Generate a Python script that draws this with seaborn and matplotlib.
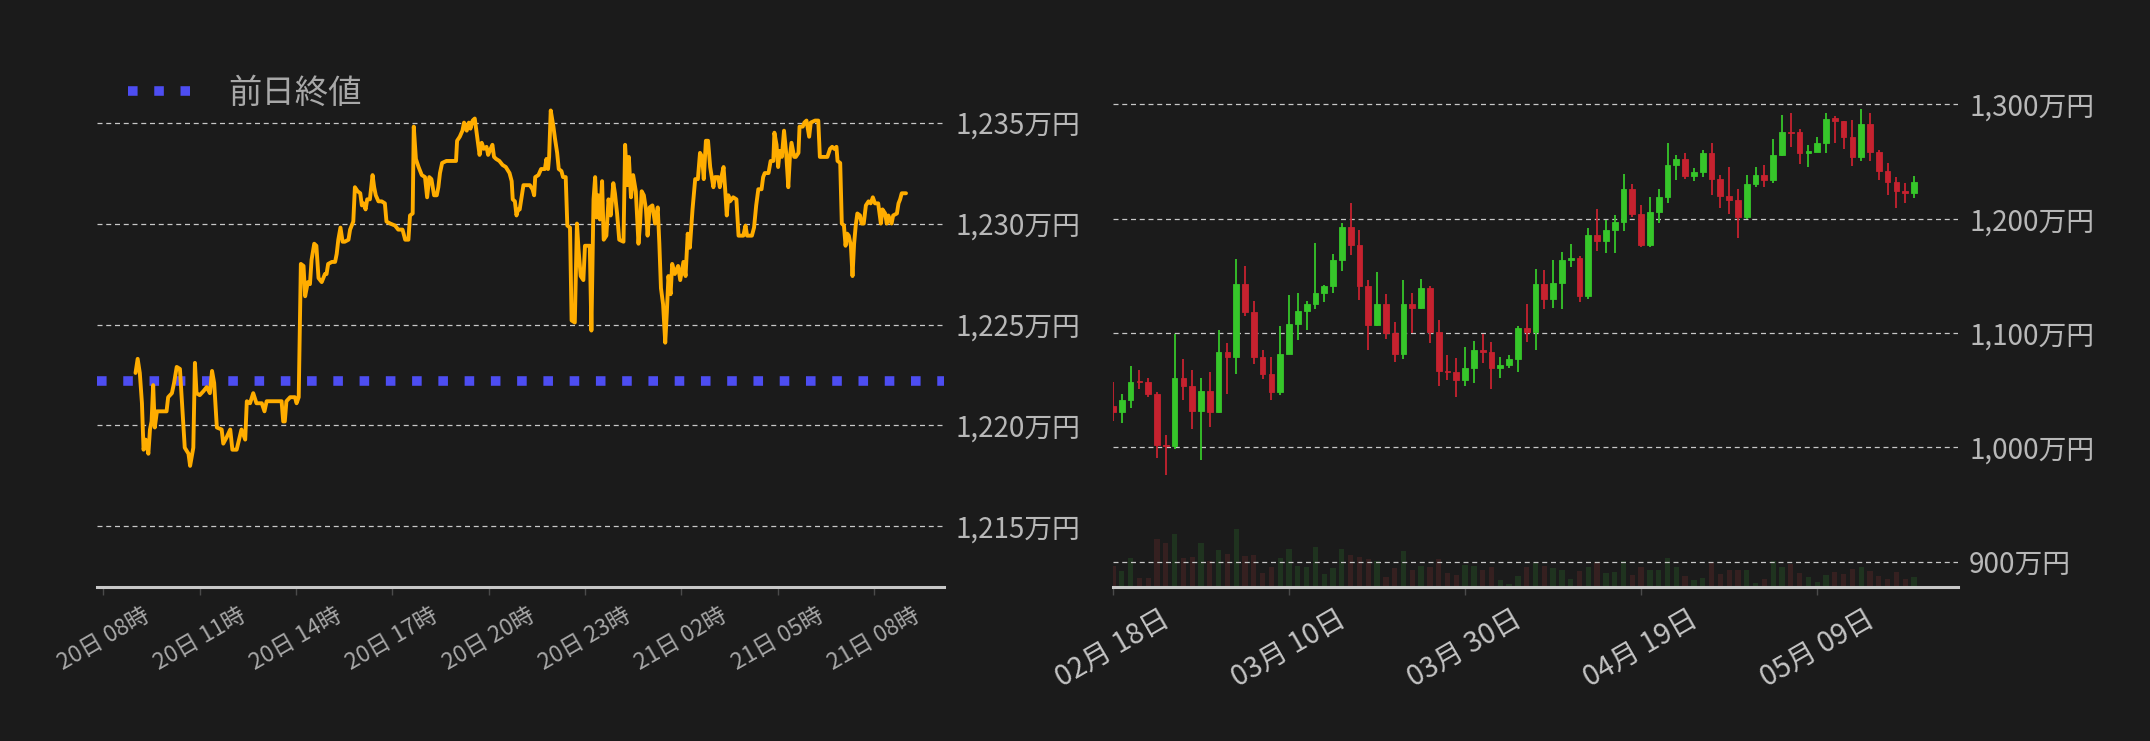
import matplotlib
matplotlib.use("Agg")
import numpy as np
import pandas as pd
import seaborn as sns
import matplotlib.pyplot as plt

# ---- intraday (left) ----
start = pd.Timestamp("2025-05-20 09:00")
minutes = [0, 4, 8, 12, 15, 19, 24, 27, 30, 33, 36, 40, 43, 49, 58, 61, 68, 72, 77, 83,
           89, 92, 99, 102, 108, 111, 114, 120, 127, 133, 139, 143, 147, 152, 161, 164, 170, 177, 181, 189,
           198, 205, 208, 214, 220, 226, 236, 241, 245, 254, 267, 273, 276, 279, 282, 289, 298, 301, 305, 309,
           314, 317, 322, 326, 329, 334, 338, 342, 348, 354,
           357, 360, 367, 373, 376, 379, 383, 387, 391, 398, 401, 404, 407, 410, 415, 420, 423, 426, 430, 433,
           438, 443, 446, 449, 454, 460, 466, 469, 476, 485, 491, 499, 504, 510, 513, 518, 520, 524, 529, 535,
           541, 545, 549, 553, 558, 563, 566, 569, 573, 581, 599, 601, 606, 611, 614, 619, 623, 626, 630, 634,
           639, 643, 647, 651, 656, 659, 662, 667, 670, 674, 680, 686, 692, 699, 703, 705, 709, 712,
           715, 718, 722, 725, 737, 742, 745, 747, 753, 758, 765, 768, 771, 773, 776, 781, 784, 788, 791, 796,
           799, 804, 807, 812, 815, 821, 825, 828, 832, 837, 840, 849, 852, 856, 859, 862, 865, 868, 872, 875,
           880, 884, 888, 893, 896, 900, 904, 912, 915, 919, 922, 926, 930, 935, 940, 943, 946, 950, 954, 957,
           961, 966, 971, 976, 979, 982, 986, 990, 993, 996, 1000, 1003, 1008, 1014, 1018, 1024, 1028, 1032, 1036, 1041,
           1046, 1051, 1055, 1059, 1062, 1066, 1070, 1074,
           1080, 1083, 1089, 1092, 1095, 1099, 1102, 1105, 1108, 1111, 1117, 1123, 1127, 1136, 1140, 1143, 1152, 1156,
           1160, 1164, 1170, 1173, 1176, 1183, 1187, 1192, 1194, 1198, 1201, 1204, 1208, 1212, 1216, 1220, 1223, 1226,
           1231, 1234, 1239, 1241, 1247, 1250, 1254, 1259, 1262, 1270, 1276, 1279, 1285, 1293, 1298, 1302, 1306, 1310,
           1312, 1317, 1320, 1324, 1327, 1330, 1333, 1337, 1340, 1343, 1346, 1349, 1354, 1357, 1361, 1365, 1370, 1374,
           1378, 1382, 1388, 1393, 1396, 1401, 1404, 1407, 1413, 1416, 1423, 1426, 1429, 1432, 1440]
prices = [1222.6, 1223.3, 1222.6, 1221.1, 1218.8, 1219.3, 1218.6, 1219.8, 1220.2, 1222.0,
          1219.9, 1220.7, 1220.7, 1220.7, 1220.7, 1221.4, 1221.6, 1222.1, 1222.9, 1222.8,
          1220.2, 1218.9, 1218.6, 1218.0, 1218.9, 1223.1, 1221.6, 1221.5, 1221.7, 1221.9,
          1221.6, 1222.7, 1222.1, 1219.9, 1219.8, 1219.1, 1219.4, 1219.8, 1218.8, 1218.8,
          1219.8, 1219.3, 1221.2, 1221.1, 1221.6, 1221.1, 1221.1, 1220.7, 1221.2, 1221.2,
          1221.2, 1221.2, 1220.2, 1220.2, 1221.2, 1221.4, 1221.4, 1221.1, 1221.4, 1228.0,
          1227.9, 1226.4, 1227.1, 1227.0, 1228.2, 1229.0, 1228.9, 1227.3, 1227.1, 1227.5,
          1227.5, 1228.0, 1228.1, 1228.1, 1228.5, 1229.2, 1229.8, 1229.1, 1229.1, 1229.2,
          1229.7, 1229.9, 1230.1, 1231.8, 1231.6, 1231.5, 1230.9, 1231.0, 1230.7, 1231.2,
          1231.2, 1232.4, 1231.8, 1231.4, 1231.1, 1231.1, 1231.0, 1230.1, 1230.0, 1229.9,
          1229.7, 1229.7, 1229.2, 1229.2, 1230.4, 1230.5, 1234.8, 1233.2, 1232.8, 1232.4,
          1232.3, 1231.3, 1232.3, 1232.2, 1231.4, 1231.4, 1231.8, 1232.5, 1233.0, 1233.1,
          1233.1, 1234.1, 1234.3, 1234.6, 1235.0, 1234.6, 1235.0, 1234.7, 1235.1, 1235.2,
          1234.2, 1233.4, 1234.0, 1233.7, 1233.8, 1233.4, 1233.6, 1233.9, 1233.3, 1233.2,
          1233.1, 1232.9, 1232.8, 1232.5, 1232.1, 1231.2, 1231.1, 1230.4,
          1230.7, 1230.7, 1231.4, 1231.9, 1231.9, 1231.7, 1231.4, 1232.3, 1232.4, 1232.7,
          1232.7, 1233.2, 1232.7, 1233.3, 1235.6, 1234.8, 1234.2, 1233.5, 1232.7, 1232.6,
          1232.3, 1232.3, 1229.9, 1229.8, 1225.2, 1225.1, 1230.0, 1228.7, 1227.4, 1227.2,
          1228.9, 1228.9, 1224.7, 1231.2, 1232.3, 1230.3, 1231.4, 1230.2, 1232.1, 1229.2,
          1229.4, 1231.2, 1230.4, 1232.0, 1231.5, 1230.5, 1229.2, 1229.1, 1233.9, 1231.9,
          1233.3, 1231.3, 1232.4, 1231.6, 1229.0, 1230.0, 1231.6, 1231.4, 1230.7, 1229.4,
          1230.8, 1230.9, 1230.0, 1230.8, 1229.0, 1226.8, 1226.0, 1224.1, 1225.6, 1227.4,
          1226.5, 1228.0, 1227.5, 1227.9, 1227.2, 1228.1, 1227.4, 1229.5, 1228.8, 1230.7,
          1232.2, 1232.2, 1233.5, 1233.3, 1232.2, 1234.1, 1234.1, 1232.8,
          1231.8, 1232.3, 1232.3, 1231.8, 1232.3, 1232.8, 1231.7, 1230.4, 1231.4, 1231.1,
          1231.3, 1231.2, 1229.4, 1229.4, 1229.9, 1229.4, 1229.4, 1229.8,
          1230.9, 1231.7, 1231.7, 1232.3, 1232.5, 1232.5, 1233.1, 1233.1, 1234.5, 1233.9,
          1232.8, 1233.6, 1233.3, 1234.6, 1233.5, 1231.8, 1233.3, 1234.0,
          1233.3, 1233.3, 1233.5, 1234.8, 1234.8, 1235.0, 1235.1, 1234.3, 1235.0, 1235.1,
          1235.1, 1233.3, 1233.3, 1233.3, 1233.7, 1233.8, 1233.7, 1233.8,
          1233.1, 1233.0, 1230.0, 1229.9, 1228.9, 1229.5, 1229.4, 1228.9, 1227.4, 1229.0,
          1229.9, 1230.5, 1230.4, 1230.0, 1230.0, 1230.9, 1231.1, 1231.0,
          1231.3, 1231.0, 1231.0, 1230.0, 1230.7, 1230.5, 1230.0, 1230.4, 1230.0, 1230.4,
          1230.5, 1231.0, 1231.2, 1231.5, 1231.5]
prev_close = 1222.2
left_yticks = [1215, 1220, 1225, 1230, 1235]
left_xticks = ["2025-05-20 08:00", "2025-05-20 11:00", "2025-05-20 14:00", "2025-05-20 17:00",
               "2025-05-20 20:00", "2025-05-20 23:00", "2025-05-21 02:00", "2025-05-21 05:00",
               "2025-05-21 08:00"]
left_xlabels = ["20日 08時", "20日 11時", "20日 14時", "20日 17時", "20日 20時",
                "20日 23時", "21日 02時", "21日 05時", "21日 08時"]

# ---- daily candles (right) ----
first_day = "2025-02-18"
opens = [1036, 1031, 1041, 1058, 1057, 1047, 1002, 1001, 1061, 1054,
         1032, 1049, 1031, 1083, 1079, 1143, 1118, 1079, 1064, 1048,
         1082, 1108, 1119, 1125, 1135, 1141, 1164, 1193, 1177, 1141,
         1107, 1125, 1100, 1082, 1125, 1122, 1139, 1101, 1067, 1066,
         1059, 1069, 1085, 1083, 1069, 1072, 1077, 1104, 1101, 1143,
         1130, 1144, 1164, 1166, 1132, 1186, 1180, 1190, 1197, 1226,
         1204, 1177, 1206, 1219, 1247, 1252, 1237, 1241, 1257, 1235,
         1220, 1216, 1201, 1230, 1238, 1234, 1256, 1276, 1276, 1257,
         1258, 1266, 1288, 1285, 1271, 1254, 1283, 1258, 1242, 1232,
         1224, 1222]
closes = [1031, 1041, 1057, 1057, 1047, 1002, 1001, 1061, 1054, 1032,
          1049, 1031, 1083, 1079, 1143, 1118, 1079, 1064, 1048, 1082,
          1108, 1119, 1125, 1135, 1141, 1164, 1193, 1177, 1141, 1107,
          1125, 1100, 1082, 1125, 1122, 1139, 1101, 1067, 1066, 1059,
          1069, 1085, 1083, 1069, 1072, 1077, 1104, 1101, 1143, 1130,
          1144, 1164, 1166, 1132, 1186, 1180, 1190, 1197, 1226, 1204,
          1177, 1206, 1219, 1247, 1252, 1237, 1241, 1257, 1235, 1220,
          1216, 1201, 1230, 1238, 1234, 1256, 1276, 1275, 1257, 1259,
          1266, 1287, 1285, 1271, 1254, 1283, 1258, 1242, 1232, 1224,
          1222, 1232]
highs = [1057, 1047, 1071, 1068, 1061, 1048, 1011, 1099, 1077, 1068,
         1061, 1066, 1103, 1091, 1165, 1159, 1128, 1085, 1079, 1106,
         1133, 1135, 1128, 1179, 1142, 1169, 1196, 1214, 1190, 1146,
         1153, 1134, 1110, 1146, 1135, 1147, 1141, 1111, 1081, 1078,
         1088, 1093, 1099, 1092, 1079, 1081, 1106, 1125, 1156, 1155,
         1164, 1171, 1178, 1167, 1192, 1208, 1199, 1203, 1239, 1230,
         1212, 1219, 1226, 1266, 1256, 1257, 1244, 1260, 1266, 1238,
         1245, 1226, 1238, 1245, 1247, 1270, 1291, 1292, 1278, 1264,
         1271, 1292, 1290, 1285, 1286, 1296, 1292, 1260, 1249, 1236,
         1231, 1237]
lows = [1023, 1021, 1034, 1051, 1044, 991, 976, 999, 1041, 1016,
        989, 1018, 1030, 1047, 1064, 1115, 1073, 1060, 1041, 1046,
        1082, 1094, 1103, 1121, 1127, 1135, 1154, 1168, 1129, 1085,
        1106, 1095, 1075, 1077, 1100, 1121, 1091, 1054, 1059, 1044,
        1054, 1056, 1074, 1051, 1061, 1069, 1066, 1092, 1085, 1121,
        1122, 1121, 1158, 1127, 1130, 1172, 1170, 1170, 1189, 1201,
        1175, 1175, 1196, 1214, 1234, 1235, 1233, 1236, 1221, 1209,
        1204, 1183, 1200, 1228, 1228, 1231, 1255, 1263, 1248, 1245,
        1258, 1257, 1266, 1261, 1246, 1250, 1250, 1234, 1221, 1209,
        1214, 1218]
volumes = [63, 47, 86, 26, 26, 143, 131, 158, 86, 89,
           131, 77, 110, 98, 173, 92, 95, 41, 59, 86,
           113, 62, 59, 119, 38, 56, 113, 95, 89, 83,
           77, 29, 56, 107, 50, 62, 59, 83, 41, 35,
           65, 62, 50, 59, 20, 8, 32, 59, 71, 62,
           56, 50, 23, 47, 59, 74, 41, 44, 77, 35,
           59, 50, 50, 86, 59, 32, 20, 26, 74, 38,
           50, 50, 50, 11, 23, 77, 59, 68, 41, 29,
           14, 35, 44, 38, 53, 59, 47, 32, 23, 44,
           23, 29]
right_yticks = [900, 1000, 1100, 1200, 1300]
right_xticks = ["2025-02-18", "2025-03-10", "2025-03-30", "2025-04-19", "2025-05-09"]
right_xlabels = ["02月 18日", "03月 10日", "03月 30日", "04月 19日", "05月 09日"]

BG = "#1b1b1b"
GRID = "#c8c8c8"
UP, DOWN = "#36c62a", "#c6222f"
UP_V, DOWN_V = "#1f331f", "#352020"

sns.set_theme(style="dark", rc={"axes.facecolor": BG, "figure.facecolor": BG,
                                "savefig.facecolor": BG})
plt.rcParams["font.family"] = ["Noto Sans CJK JP", "DejaVu Sans"]

fig = plt.figure(figsize=(21.5, 7.41), dpi=100)
ax1 = fig.add_axes([97 / 2150, 154 / 741, 847 / 2150, 527 / 741])
ax2 = fig.add_axes([1113 / 2150, 154 / 741, 845 / 2150, 527 / 741])


def style_axes(ax, xlabelsize, xlabelcolor):
    for side in ["top", "left", "right"]:
        ax.spines[side].set_visible(False)
    ax.spines["bottom"].set_color(GRID)
    ax.spines["bottom"].set_linewidth(2.2)
    ax.yaxis.tick_right()
    ax.yaxis.grid(True, color=GRID, lw=0.9, ls=(0, (4, 3)))
    ax.xaxis.grid(False)
    ax.tick_params(axis="y", length=0, pad=8, labelsize=20, labelcolor="#b8b8b8",
                   right=True, left=False)
    ax.tick_params(axis="x", bottom=True, length=6, width=1, color="#4a4a4a", pad=6,
                   labelsize=xlabelsize, labelcolor=xlabelcolor)
    ax.set_xlabel("")
    ax.set_ylabel("")


# left chart
df = pd.DataFrame({"time": start + pd.to_timedelta(minutes, unit="m"), "price": prices})
sns.lineplot(data=df, x="time", y="price", ax=ax1, color="#ffad00", lw=2.8, zorder=3)
hl = ax1.axhline(prev_close, color="#4d4df2", lw=6.9, ls=(0, (1, 1.74)),
                 dash_capstyle="butt", label="前日終値", zorder=2)
ax1.set_xlim(start - pd.Timedelta(minutes=72), start + pd.Timedelta(minutes=1511))
ax1.set_ylim(1212.0, 1238.1)
ax1.set_yticks(left_yticks)
ax1.set_yticklabels([f"{v:,}万円" for v in left_yticks])
ax1.set_xticks(pd.to_datetime(left_xticks))
ax1.set_xticklabels(left_xlabels, rotation=30)
style_axes(ax1, 16.5, "#a8a8a8")
leg = ax1.legend(handles=[hl], loc="center left", bbox_to_anchor=(0.021, 0.937),
                 frameon=False, fontsize=24, handlelength=1.85, handletextpad=1.15,
                 borderpad=0.4, borderaxespad=0)
for t in leg.get_texts():
    t.set_color("#a8a8a8")

# right chart
dates = pd.date_range(first_day, periods=len(opens), freq="D")
o = np.array(opens)
c = np.array(closes)
colors = [UP if cc >= oo else DOWN for oo, cc in zip(opens, closes)]
vcolors = [UP_V if cc >= oo else DOWN_V for oo, cc in zip(opens, closes)]

axv = ax2.twinx()
axv.bar(dates, volumes, width=0.6, color=vcolors, linewidth=0)
axv.set_ylim(0, 1581)
axv.set_yticks([])
for s in axv.spines.values():
    s.set_visible(False)
axv.grid(False)
ax2.set_zorder(axv.get_zorder() + 1)
ax2.patch.set_visible(False)

ax2.vlines(dates, lows, highs, color=colors, lw=1.3, zorder=3)
ax2.bar(dates, np.maximum(np.abs(c - o), 0.8), bottom=np.minimum(o, c), width=0.65,
        color=colors, edgecolor=colors, linewidth=0.6, zorder=4)
ax2.set_xlim(pd.Timestamp(first_day), pd.Timestamp(first_day) + pd.Timedelta(days=96))
ax2.set_ylim(877.9, 1338.7)
ax2.set_yticks(right_yticks)
ax2.set_yticklabels([f"{v:,}万円" for v in right_yticks])
ax2.set_xticks(pd.to_datetime(right_xticks))
ax2.set_xticklabels(right_xlabels, rotation=30)
style_axes(ax2, 20.5, "#c4c4c4")

fig.savefig("out.png", dpi=100, facecolor=BG)
